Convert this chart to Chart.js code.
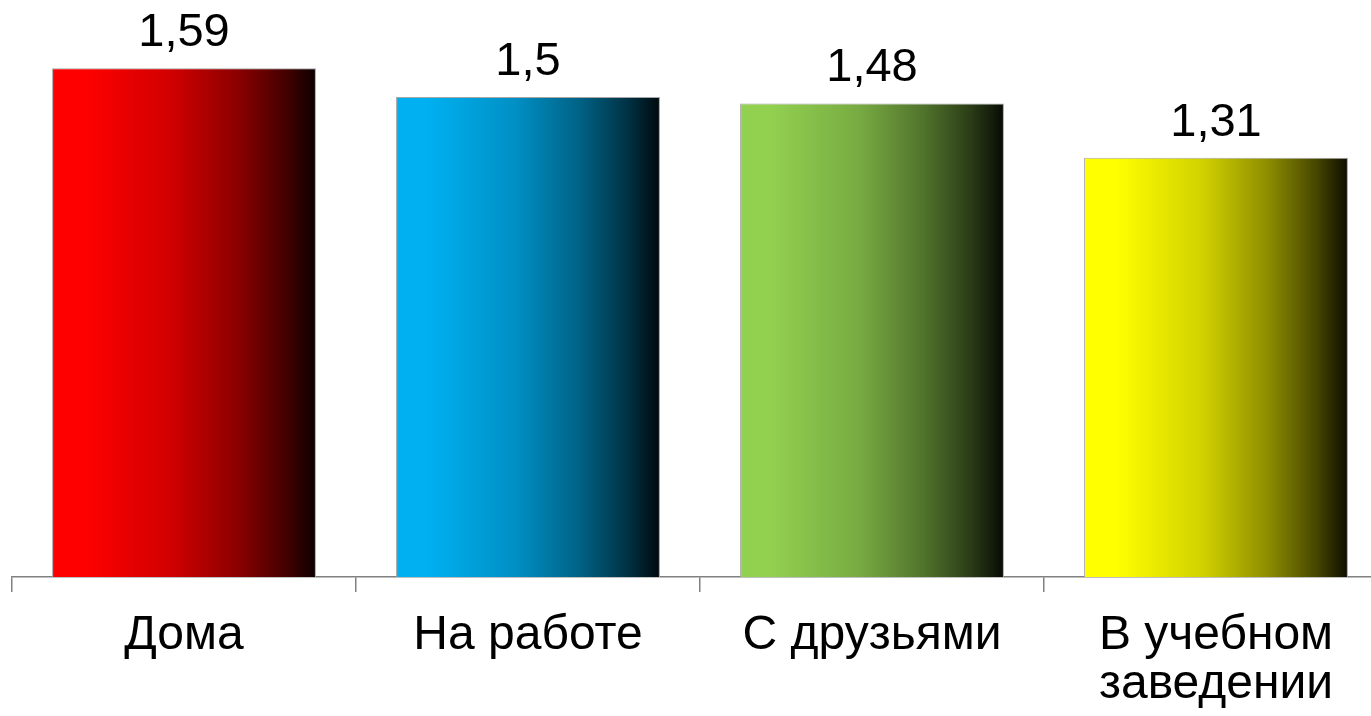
<!DOCTYPE html>
<html>
<head>
<meta charset="utf-8">
<script src="https://cdn.jsdelivr.net/npm/chart.js@4"></script>
<style>
    html, body { margin: 0; padding: 0; background: #fff; overflow: hidden; }
    #wrap { position: relative; width: 1390px; height: 716px; }
</style>
</head>
<body>
<div id="wrap"><canvas id="chart"></canvas></div>
<script>
// Data
const categories = ['Дома', 'На работе', 'С друзьями', ['В учебном', 'заведении']];
const values = [1.59, 1.5, 1.48, 1.31];
const startColors = ['#ff0000', '#00b0f0', '#92d050', '#ffff00'];

const fontFamily = "Arial, 'Liberation Sans', sans-serif";
const barPct = 0.767;
// brightness along the bar, left to right
const shadeStops = [[0, 1], [0.12, 1], [0.45, 0.82], [0.7, 0.55], [0.88, 0.28], [1, 0.05]];

function shade(hex, k) {
    const n = parseInt(hex.slice(1), 16);
    const r = Math.round(((n >> 16) & 255) * k);
    const g = Math.round(((n >> 8) & 255) * k);
    const b = Math.round((n & 255) * k);
    return `rgb(${r}, ${g}, ${b})`;
}

// horizontal gradient for each bar, colour -> almost black
function barGradient(context) {
    const chart = context.chart;
    const i = context.dataIndex;
    const xScale = chart.scales.x;
    if (!chart.chartArea || !xScale) return startColors[i];
    const cx = xScale.getPixelForValue(i);
    const half = (xScale.width / categories.length) * barPct / 2;
    if (!isFinite(cx) || !isFinite(half)) return startColors[i];
    const g = chart.ctx.createLinearGradient(cx - half, 0, cx + half, 0);
    shadeStops.forEach(([pos, k]) => g.addColorStop(pos, shade(startColors[i], k)));
    return g;
}

// draws the value above each bar
const valueLabels = {
    id: 'valueLabels',
    afterDatasetsDraw(chart) {
        const ctx = chart.ctx;
        const meta = chart.getDatasetMeta(0);
        ctx.save();
        ctx.font = `47px ${fontFamily}`;
        ctx.fillStyle = '#000';
        ctx.textAlign = 'center';
        ctx.textBaseline = 'alphabetic';
        meta.data.forEach((bar, i) => {
            ctx.fillText(values[i].toString().replace('.', ','), bar.x, bar.y - 22);
        });
        ctx.restore();
    }
};

const ctx = document.getElementById('chart').getContext('2d');
new Chart(ctx, {
    type: 'bar',
    data: {
        labels: categories,
        datasets: [{
            data: values,
            backgroundColor: barGradient,
            borderColor: '#a6a6a6',
            borderWidth: 1,
            barPercentage: barPct,
            categoryPercentage: 1
        }]
    },
    options: {
        responsive: true,
        maintainAspectRatio: false,
        animation: false,
        layout: {
            padding: { left: 12, right: 2, top: 1, bottom: 0 }
        },
        plugins: {
            legend: { display: false },
            tooltip: { enabled: false }
        },
        scales: {
            x: {
                afterFit: (scale) => { scale.height = 139; },
                grid: {
                    offset: true,
                    drawOnChartArea: false,
                    drawTicks: true,
                    tickLength: 15,
                    color: '#808080',
                    lineWidth: 1.5
                },
                border: { color: '#808080', width: 1.5 },
                ticks: {
                    color: '#000',
                    padding: 19,
                    maxRotation: 0,
                    autoSkip: false,
                    font: { family: fontFamily, size: 48, lineHeight: 1.02 }
                }
            },
            y: {
                display: false,
                min: 0,
                max: 1.8
            }
        }
    },
    plugins: [valueLabels]
});
</script>
</body>
</html>
